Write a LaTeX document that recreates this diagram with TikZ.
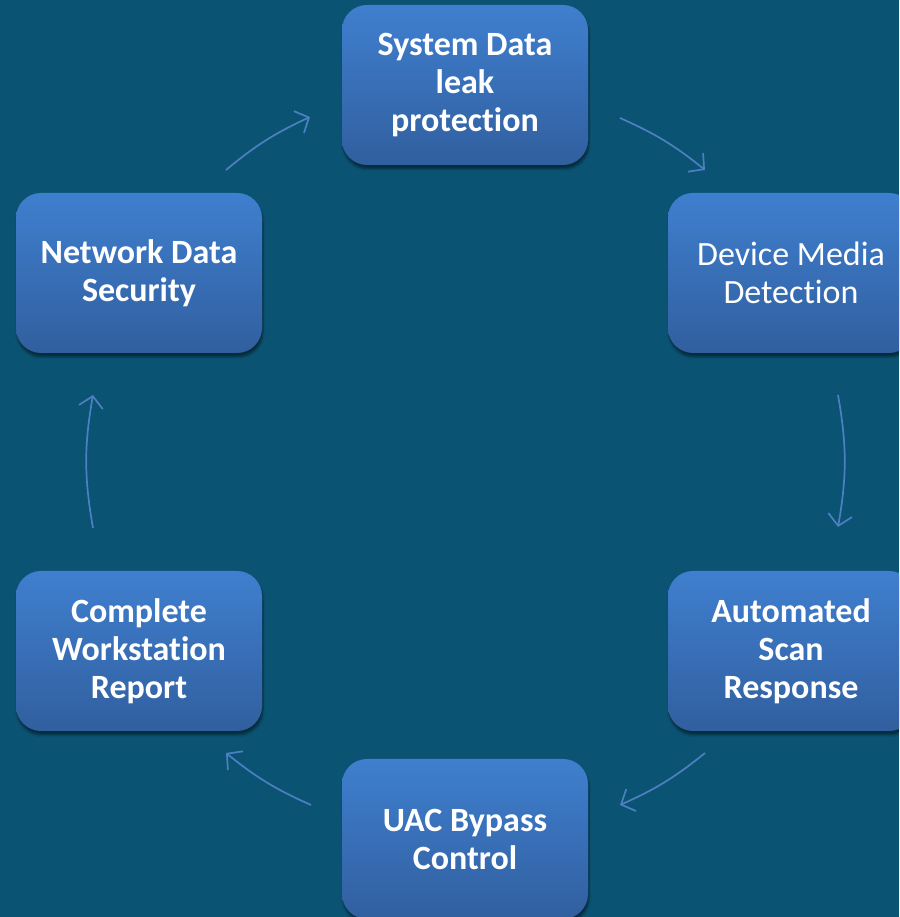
\documentclass[tikz,border=0pt]{standalone}
\usepackage{fontspec}
\setmainfont{Carlito}[Ligatures=NoCommon]
\usetikzlibrary{arrows.meta,shadows.blur}
\definecolor{bgc}{HTML}{0B5373}
\definecolor{boxtop}{HTML}{3F7FCF}
\definecolor{boxbot}{HTML}{315F9F}
\definecolor{arrc}{HTML}{4C80C2}
\tikzset{
  box/.style={rounded corners=25pt, minimum width=246pt, minimum height=160pt,
    top color=boxtop, bottom color=boxbot, draw=none, text=white, align=center,
    font=\fontsize{34}{38}\selectfont\bfseries,
    blur shadow={shadow blur steps=6, shadow xshift=1pt, shadow yshift=-4pt, shadow opacity=45}},
  plainbox/.style={box, font=\fontsize{34}{38}\selectfont},
  flow/.style={draw=arrc, line width=1.7pt, -{Straight Barb[length=11pt,width=24pt,line width=1.7pt]}}
}
\begin{document}
\begin{tikzpicture}[x=1pt,y=1pt]
\useasboundingbox (0,0) rectangle (899,917);
\clip (0,0) rectangle (899,917);
\fill[bgc] (0,0) rectangle (899,917);
\node[box] (sys) at (465,832) {System Data\\leak\\protection};
\node[plainbox] (dev) at (791,644) {Device Media\\Detection};
\node[box] (scan) at (791,266) {Automated\\Scan\\Response};
\node[box] (uac) at (465,78) {UAC Bypass\\Control};
\node[box] (rep) at (139,266) {Complete\\Workstation\\Report};
\node[box] (net) at (139,644) {Network Data\\Security};
\coordinate (a1s) at (226,747); \coordinate (a1e) at (310,800);
\coordinate (a2s) at (620,799); \coordinate (a2e) at (705,747);
\coordinate (a3s) at (838,522); \coordinate (a3e) at (838,390);
\coordinate (a4s) at (705,164); \coordinate (a4e) at (620,112);
\coordinate (a5s) at (311,112); \coordinate (a5e) at (226,164);
\coordinate (a6s) at (93,389);  \coordinate (a6e) at (93,522);
\draw[flow] (a1s) to[bend left=7.5] (a1e);
\draw[flow] (a2s) to[bend left=7.5] (a2e);
\draw[flow] (a3s) to[bend left=10] (a3e);
\draw[flow] (a4s) to[bend left=7.5] (a4e);
\draw[flow] (a5s) to[bend left=7.5] (a5e);
\draw[flow] (a6s) to[bend left=10] (a6e);
\end{tikzpicture}
\end{document}
